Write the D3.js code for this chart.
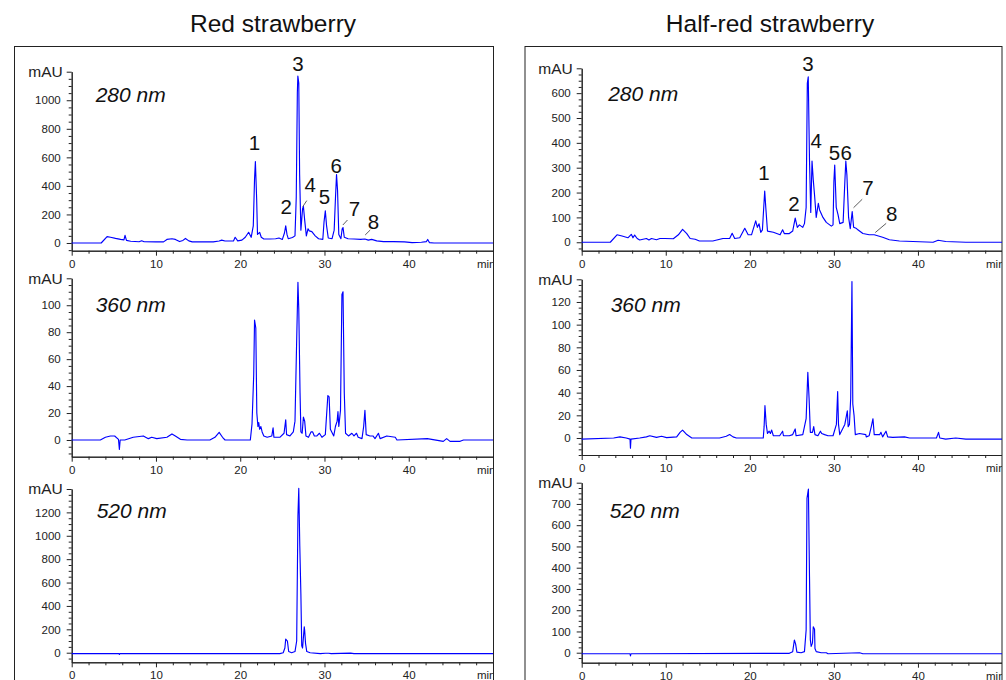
<!DOCTYPE html>
<html>
<head>
<meta charset="utf-8">
<script src="https://cdn.jsdelivr.net/npm/d3@7"></script>
<style>
  body { margin: 0; background: #fff; }
  svg { font-family: "Liberation Sans", Arial, sans-serif; }
</style>
</head>
<body>
<script>
// retention time (min), absorbance (mAU)
const red280 = [[0,0],[3.5,0],[4.2,45],[4.6,40],[5.2,32],[5.8,25],[6.2,22],[6.33,54],[6.5,18],[7,12],[8,9],[8.3,16],[8.6,9],[10,8],[10.9,8],[11.3,25],[11.9,30],[12.3,25],[12.8,10],[13.2,18],[13.5,32],[13.9,15],[14.3,8],[16.8,8],[17.5,14],[17.8,20],[18.2,14],[19.2,14],[19.4,40],[19.7,15],[20.2,20],[20.6,40],[21.0,75],[21.3,40],[21.55,120],[21.7,450],[21.8,570],[21.95,310],[22.05,60],[22.3,75],[22.5,40],[22.8,28],[23.5,28],[24.2,30],[24.6,35],[25.0,25],[25.25,70],[25.4,120],[25.55,60],[25.7,30],[26.2,38],[26.5,50],[26.65,320],[26.78,1050],[26.84,1170],[26.95,1120],[27.05,480],[27.2,90],[27.4,240],[27.5,256],[27.65,160],[27.85,50],[28.05,100],[28.2,85],[28.5,80],[28.9,50],[29.3,30],[29.8,25],[29.95,150],[30.1,225],[30.25,120],[30.45,35],[30.9,30],[31.15,90],[31.3,310],[31.43,479],[31.55,370],[31.7,60],[31.95,30],[32.1,100],[32.2,108],[32.35,40],[32.8,30],[33.5,28],[34.3,25],[34.8,28],[35.2,20],[35.6,25],[36.2,15],[37,10],[38.2,10],[39.5,8],[40.4,3],[41.5,5],[42.1,10],[42.25,25],[42.45,3],[43,0],[50,0]];
const red360 = [[0,0],[3.4,0],[4.0,2],[4.6,3],[5.1,3],[5.55,0.5],[5.66,-7],[5.75,0],[6.3,0],[7.3,2],[8.5,3],[9.1,1],[9.5,2],[10.1,1],[11.3,2],[11.9,4.5],[12.3,3],[12.9,0.5],[13.7,0],[16.4,0],[17.0,2],[17.5,5.7],[17.9,2],[18.2,0],[21.2,0],[21.4,12],[21.6,48],[21.7,89],[21.85,83],[21.97,20],[22.1,10],[22.2,13],[22.3,8],[22.45,10],[22.6,6],[22.8,3],[23.2,2],[23.75,3],[23.9,9],[24.0,2],[24.7,2],[25.2,5],[25.4,15],[25.5,4],[25.9,3],[26.3,6],[26.5,14],[26.7,74],[26.85,117],[26.95,97],[27.1,35],[27.2,6],[27.35,5],[27.5,17],[27.65,14],[27.8,3],[28.1,2],[28.4,6],[28.6,6],[28.8,3],[29.1,3],[29.4,5],[29.7,2],[30.1,4],[30.4,33],[30.55,32],[30.7,8],[31.1,3],[31.3,10],[31.5,14],[31.6,21],[31.7,10],[31.9,22],[32.07,108],[32.2,110],[32.35,35],[32.5,5],[32.85,3],[33.25,5],[33.5,3],[33.8,5],[34.0,2],[34.45,1],[34.65,10],[34.8,22],[34.95,4],[35.4,3],[35.75,3],[36.0,1],[36.4,5],[36.6,1],[37.4,3],[38.4,2],[38.6,0],[42.2,1],[44.1,-1],[44.5,1],[44.9,-1],[46.1,-1],[46.5,0],[50,0]];
const red520 = [[0,-8],[5.6,-8],[5.66,-15],[5.72,-8],[24.7,-8],[25.1,0],[25.3,40],[25.4,117],[25.6,100],[25.75,10],[26.1,0],[26.5,10],[26.7,100],[26.85,1170],[26.95,1405],[27.07,912],[27.2,500],[27.3,60],[27.4,40],[27.6,222],[27.65,190],[27.75,80],[27.9,10],[28.3,0],[29.5,-8],[30.1,-5],[30.5,-5],[30.8,-8],[33.1,-3],[33.5,-8],[50,-8]];
const half280 = [[0,0],[3.4,0],[4.2,30],[4.8,25],[5.5,18],[5.9,32],[6.1,18],[6.3,29],[6.6,15],[6.9,9],[7.7,15],[8.0,9],[8.3,15],[8.9,10],[9.3,15],[9.9,15],[10.9,14],[11.5,30],[12.0,52],[12.5,35],[12.9,15],[13.5,12],[14.0,5],[15.6,5],[16.8,15],[17.6,15],[17.9,36],[18.2,15],[18.8,18],[19.4,56],[19.8,30],[20.2,30],[20.7,86],[20.9,60],[21.1,74],[21.3,40],[21.5,50],[21.77,206],[21.9,140],[22.1,45],[22.8,40],[23.6,30],[23.9,50],[24.1,35],[24.7,35],[25.1,45],[25.4,97],[25.65,60],[25.9,70],[26.3,60],[26.5,75],[26.7,140],[26.84,640],[26.95,666],[27.1,330],[27.25,120],[27.4,327],[27.55,250],[27.7,190],[27.9,100],[28.15,157],[28.3,130],[28.7,100],[29.1,80],[29.7,65],[29.9,70],[30.0,244],[30.1,311],[30.28,140],[30.5,110],[30.7,75],[31.1,80],[31.3,240],[31.42,327],[31.55,270],[31.75,100],[31.95,55],[32.18,123],[32.35,60],[32.7,55],[32.85,50],[33.45,35],[34.2,30],[34.8,30],[35.8,20],[36.6,10],[37.8,5],[39.4,3],[41.8,0],[42.4,8],[43.3,3],[45.7,0],[50,0]];
const half360 = [[0,-1],[3.8,0],[4.55,1],[5.3,0],[5.75,-1],[5.8,-9],[5.86,-1],[6.9,0],[7.7,1],[8.1,2],[8.9,0.5],[9.5,1.5],[10.1,0.3],[11.3,1],[11.7,5],[12.0,7],[12.5,3],[13.1,0],[16.4,0],[17.2,1.5],[17.6,3],[18.0,1],[18.4,0],[21.6,0],[21.7,10],[21.8,28.5],[21.95,12],[22.1,4],[22.3,6],[22.45,4],[22.6,7],[22.8,2],[23.55,2],[23.9,6],[24.0,2],[24.7,2],[25.1,3],[25.4,8],[25.5,2],[26.3,3],[26.7,17],[26.9,58],[27.05,35],[27.2,5],[27.45,5],[27.6,10],[27.75,3],[28.1,2],[28.4,6],[28.55,4],[28.9,3],[29.3,2],[29.9,2],[30.3,12],[30.45,41],[30.55,12],[30.7,3],[31.3,12],[31.6,24],[31.7,10],[31.85,12],[32.0,35],[32.15,138],[32.25,30],[32.4,20],[32.55,3],[33.05,4],[33.8,3],[33.85,1],[34.2,2],[34.45,10],[34.65,17],[34.8,3],[35.45,3],[35.6,5],[35.8,1],[36.2,6],[36.4,1],[37.0,0.5],[38.4,1],[39.0,0],[42.2,0],[42.45,5],[42.6,0],[43.3,-1],[44.5,0],[45.7,-1],[50,-1]];
const half520 = [[0,-5],[5.75,-5],[5.8,-15],[5.86,-5],[24.7,-3],[25.1,5],[25.3,60],[25.45,40],[25.6,3],[26.1,0],[26.5,5],[26.7,107],[26.8,726],[26.97,770],[27.1,358],[27.2,60],[27.3,30],[27.45,45],[27.55,122],[27.7,110],[27.75,20],[27.9,5],[28.5,0],[29.1,0],[29.3,-5],[33.05,0],[33.45,-5],[50,-5]];

// peak numbers: [label, time, mAU] and leader lines [[t1,v1],[t2,v2]]
const red280Peaks = [['1',21.69,654],['2',25.45,200],['3',26.84,1206],['4',28.3,354],['5',30.0,270],['6',31.39,491],['7',33.56,188],['8',35.82,97]];
const red280Leaders = [[[27.43,255],[27.9,297]],[[32.18,126],[32.73,161]],[[34.83,56],[35.43,91]]];
const half280Peaks = [['1',21.69,252],['2',25.25,125],['3',26.91,690],['4',27.91,380],['5',30.08,333],['6',31.47,333],['7',34.04,190],['8',36.89,85]];
const half280Leaders = [[[32.34,139],[33.37,173]],[[34.92,39],[36.22,76]]];

const titles = ['Red strawberry', 'Half-red strawberry'];
const wavelengths = ['280 nm', '360 nm', '520 nm'];
const xTicks = [0, 10, 20, 30, 40];

const w = 1006;
const h = 680;

const svg = d3.select('body')
  .append('svg')
  .attr('width', w)
  .attr('height', h);

const columns = [
  {titleX: 273, boxX: 14.5, boxW: 479, x0: 71.7, x1: 493},
  {titleX: 770, boxX: 525, boxW: 477, x0: 581.7, x1: 1002}
];

const panels = [
  {col: 0, row: 0, top: 71.7, bottom: 250.7, yTop: 1200, yMin: -54, step: 200, data: red280, dx: 24, dy: 30, peaks: red280Peaks, leaders: red280Leaders},
  {col: 0, row: 1, top: 278.3, bottom: 456.7, yTop: 120, yMin: -12.4, step: 20, data: red360, dx: 24, dy: 34},
  {col: 0, row: 2, top: 489, bottom: 662.3, yTop: 1400, yMin: -82, step: 200, data: red520, dx: 25, dy: 29},
  {col: 1, row: 0, top: 68.3, bottom: 250.7, yTop: 700, yMin: -34, step: 100, data: half280, dx: 26.5, dy: 33, peaks: half280Peaks, leaders: half280Leaders},
  {col: 1, row: 1, top: 279.3, bottom: 455, yTop: 140, yMin: -15, step: 20, data: half360, dx: 29, dy: 33},
  {col: 1, row: 2, top: 482.7, bottom: 662.7, yTop: 800, yMin: -47, step: 100, data: half520, dx: 28, dy: 35}
];

// frames and titles
columns.forEach((c, i) => {
  svg.append('text')
    .attr('x', c.titleX)
    .attr('y', 31.5)
    .attr('text-anchor', 'middle')
    .attr('font-size', 24.5)
    .attr('fill', '#111')
    .text(titles[i]);

  svg.append('clipPath')
    .attr('id', 'clip' + i)
    .append('rect')
    .attr('x', c.boxX)
    .attr('y', 46.5)
    .attr('width', c.boxW)
    .attr('height', 700);

  svg.append('rect')
    .attr('x', c.boxX)
    .attr('y', 46.5)
    .attr('width', c.boxW)
    .attr('height', 700)
    .attr('fill', 'none')
    .attr('stroke', '#222')
    .attr('stroke-width', 1);
});

panels.forEach(p => {
  const c = columns[p.col];
  const g = svg.append('g').attr('clip-path', 'url(#clip' + p.col + ')');

  const xScale = d3.scaleLinear().domain([0, 50]).range([c.x0, c.x1]);
  const yScale = d3.scaleLinear().domain([p.yMin, p.yTop]).range([p.bottom, p.top]);

  // x axis: minor then major ticks
  const xMinor = d3.range(0, 50.01, 2).filter(d => d % 10 !== 0);
  g.append('g')
    .attr('transform', 'translate(0,' + p.bottom + ')')
    .call(d3.axisBottom(xScale).tickValues(xMinor).tickFormat('').tickSize(3).tickSizeOuter(0));
  const xAx = g.append('g')
    .attr('transform', 'translate(0,' + p.bottom + ')')
    .call(d3.axisBottom(xScale).tickValues(xTicks).tickSize(5).tickSizeOuter(0));
  xAx.selectAll('text')
    .attr('y', 17)
    .attr('dy', null)
    .attr('font-size', 11.5);
  g.append('text')
    .attr('x', xScale(48.1))
    .attr('y', p.bottom + 17)
    .attr('font-size', 11.5)
    .attr('fill', '#222')
    .text('min');

  // y axis
  const yMinorStep = p.step / 4;
  const yMinor = d3.range(Math.ceil(p.yMin / yMinorStep) * yMinorStep, p.yTop + 1e-9, yMinorStep)
    .filter(d => Math.abs(d % p.step) > 1e-9);
  g.append('g')
    .attr('transform', 'translate(' + c.x0 + ',0)')
    .call(d3.axisLeft(yScale).tickValues(yMinor).tickFormat('').tickSize(3).tickSizeOuter(0));
  const yMajor = d3.range(0, p.yTop + 1e-9, p.step);
  const yAx = g.append('g')
    .attr('transform', 'translate(' + c.x0 + ',0)')
    .call(d3.axisLeft(yScale).tickValues(yMajor).tickSize(5).tickPadding(6).tickSizeOuter(0)
      .tickFormat(d => d === p.yTop ? 'mAU' : d));
  yAx.selectAll('text').attr('font-size', 11.5);
  yAx.selectAll('text')
    .filter(d => d === p.yTop)
    .attr('font-size', 15.5)
    .attr('x', -9);

  [xAx, yAx].forEach(a => {
    a.selectAll('text').attr('fill', '#222');
  });
  g.selectAll('.domain, .tick line').attr('stroke', '#222');

  // chromatogram trace
  const line = d3.line()
    .x(d => xScale(d[0]))
    .y(d => yScale(d[1]));
  g.append('path')
    .datum(p.data)
    .attr('fill', 'none')
    .attr('stroke', '#0000ff')
    .attr('stroke-width', 1.15)
    .attr('stroke-linejoin', 'round')
    .attr('d', line);

  // wavelength label
  g.append('text')
    .attr('x', c.x0 + p.dx)
    .attr('y', p.top + p.dy)
    .attr('font-size', 21)
    .attr('font-style', 'italic')
    .attr('fill', '#111')
    .text(wavelengths[p.row]);

  // peak numbers
  if (p.peaks) {
    g.selectAll('.peak')
      .data(p.peaks)
      .enter()
      .append('text')
      .attr('class', 'peak')
      .attr('x', d => xScale(d[1]))
      .attr('y', d => yScale(d[2]))
      .attr('text-anchor', 'middle')
      .attr('font-size', 20.5)
      .attr('fill', '#111')
      .text(d => d[0]);

    g.selectAll('.leader')
      .data(p.leaders)
      .enter()
      .append('line')
      .attr('class', 'leader')
      .attr('x1', d => xScale(d[0][0]))
      .attr('y1', d => yScale(d[0][1]))
      .attr('x2', d => xScale(d[1][0]))
      .attr('y2', d => yScale(d[1][1]))
      .attr('stroke', '#333')
      .attr('stroke-width', 0.8);
  }
});
</script>
</body>
</html>
